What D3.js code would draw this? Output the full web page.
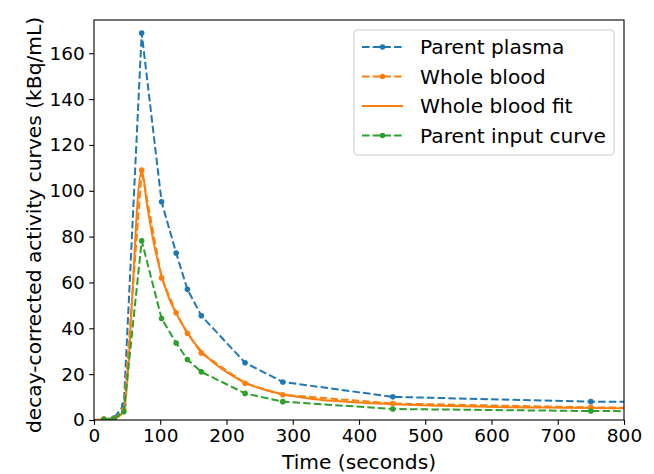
<!DOCTYPE html>
<html>
<head>
<meta charset="utf-8">
<script src="https://cdn.jsdelivr.net/npm/d3@7"></script>
<style>
  html, body { margin: 0; padding: 0; background: #fff; }
  svg { display: block; }
  text { font-family: "DejaVu Sans", sans-serif; fill: #000; }
</style>
</head>
<body>
<script>
// ---- data ----
const times = [15, 30, 45, 72, 102, 124, 141, 162, 228, 285, 451, 750, 900];
const parentPlasma = [0.3, 0.8, 6.5, 168.8, 95.2, 72.8, 57.0, 45.5, 25.0, 16.6, 10.1, 8.0, 7.8];
const wholeBlood   = [0.4, 0.5, 4.3, 109.0, 62.0, 46.8, 37.8, 29.2, 16.0, 11.0, 7.2, 5.5, 5.1];
const parentInput  = [0.3, 0.4, 3.6, 78.2, 44.3, 33.6, 26.4, 21.0, 11.6, 8.0, 4.8, 3.9, 3.8];
const fitTimes  = [0, 15, 30, 45, 72, 80, 90, 102, 112, 124, 141, 162, 185, 205, 228, 255, 285, 330, 380, 451, 520, 600, 680, 750, 800];
const fitValues = [0, 0.3, 0.5, 4.0, 109.0, 94.0, 77.5, 63.0, 54.0, 46.5, 38.0, 30.0, 24.0, 20.0, 16.3, 13.4, 11.2, 9.2, 8.0, 6.9, 6.2, 5.7, 5.4, 5.2, 5.1];
const xTicks = [0, 100, 200, 300, 400, 500, 600, 700, 800];
const yTicks = [0, 20, 40, 60, 80, 100, 120, 140, 160];
const seriesNames = ["Parent plasma", "Whole blood", "Whole blood fit", "Parent input curve"];
const seriesColors = ["#1f77b4", "#ff7f0e", "#ff7f0e", "#2ca02c"];

// ---- layout ----
const W = 654, H = 474;
const mL = 94, mR = 624, mT = 20, mB = 420;
const fs = 18.5, fsLab = 20.2;

const svg = d3.select("body").append("svg").attr("width", W).attr("height", H);

const x = d3.scaleLinear().domain([0, 800]).range([mL, mR]);
const y = d3.scaleLinear().domain([0, 174.5]).range([mB, mT]);

svg.append("defs").append("clipPath").attr("id", "clip")
  .append("rect").attr("x", mL).attr("y", mT).attr("width", mR - mL).attr("height", mB - mT);

const plot = svg.append("g").attr("clip-path", "url(#clip)");

const dash = "7.5,3.2";
const line = d3.line().x(d => x(d[0])).y(d => y(d[1]));

function dataSeries(vals, color) {
  const pts = times.map((t, i) => [t, vals[i]]);
  plot.append("path").datum(pts).attr("d", line)
    .attr("fill", "none").attr("stroke", color).attr("stroke-width", 2)
    .attr("stroke-dasharray", dash);
  plot.append("g").selectAll("circle").data(pts).join("circle")
    .attr("cx", d => x(d[0])).attr("cy", d => y(d[1])).attr("r", 2.8)
    .attr("fill", color);
}

dataSeries(parentPlasma, seriesColors[0]);
dataSeries(wholeBlood, seriesColors[1]);
plot.append("path").datum(fitTimes.map((t, i) => [t, fitValues[i]]))
  .attr("d", d3.line().x(d => x(d[0])).y(d => y(d[1])).curve(d3.curveMonotoneX))
  .attr("fill", "none").attr("stroke", seriesColors[2]).attr("stroke-width", 2);
dataSeries(parentInput, seriesColors[3]);

// ---- axes ----
const xAxis = d3.axisBottom(x).tickValues(xTicks).tickSize(4.8).tickPadding(4.5).tickFormat(d3.format("d"));
const yAxis = d3.axisLeft(y).tickValues(yTicks).tickSize(4.8).tickPadding(4.5).tickFormat(d3.format("d"));

const gx = svg.append("g").attr("transform", `translate(0,${mB})`).call(xAxis);
const gy = svg.append("g").attr("transform", `translate(${mL},0)`).call(yAxis);
[gx, gy].forEach(g => {
  g.select(".domain").remove();
  g.selectAll(".tick line").attr("stroke", "#000").attr("stroke-width", 1.1);
  g.selectAll(".tick text").style("font-size", fs + "px").style("font-family", "DejaVu Sans");
});

// spines
svg.append("rect").attr("x", mL).attr("y", mT).attr("width", mR - mL).attr("height", mB - mT)
  .attr("fill", "none").attr("stroke", "#000").attr("stroke-width", 1.1);

// axis labels
svg.append("text").attr("x", (mL + mR) / 2).attr("y", 469)
  .attr("text-anchor", "middle").style("font-size", fsLab + "px").text("Time (seconds)");
svg.append("text").attr("transform", `translate(41,225) rotate(-90)`)
  .attr("text-anchor", "middle").style("font-size", fsLab + "px")
  .text("decay-corrected activity curves (kBq/mL)");

// ---- legend ----
const lg = svg.append("g");
lg.append("rect").attr("x", 354).attr("y", 30).attr("width", 260).attr("height", 125)
  .attr("rx", 3).attr("fill", "#fff").attr("fill-opacity", 0.8)
  .attr("stroke", "#cccccc").attr("stroke-width", 1);
const dashedFlags = [true, true, false, true];
seriesNames.forEach((name, i) => {
  const cy = 47 + i * 29.5;
  const item = lg.append("g");
  item.append("line").attr("x1", 362).attr("x2", 403).attr("y1", cy).attr("y2", cy)
    .attr("stroke", seriesColors[i]).attr("stroke-width", 2)
    .attr("stroke-dasharray", dashedFlags[i] ? dash : null);
  if (dashedFlags[i]) {
    item.append("circle").attr("cx", 382.5).attr("cy", cy).attr("r", 2.8).attr("fill", seriesColors[i]);
  }
  item.append("text").attr("x", 420).attr("y", cy).attr("dy", "0.35em")
    .style("font-size", fsLab + "px").text(name);
});
</script>
</body>
</html>
